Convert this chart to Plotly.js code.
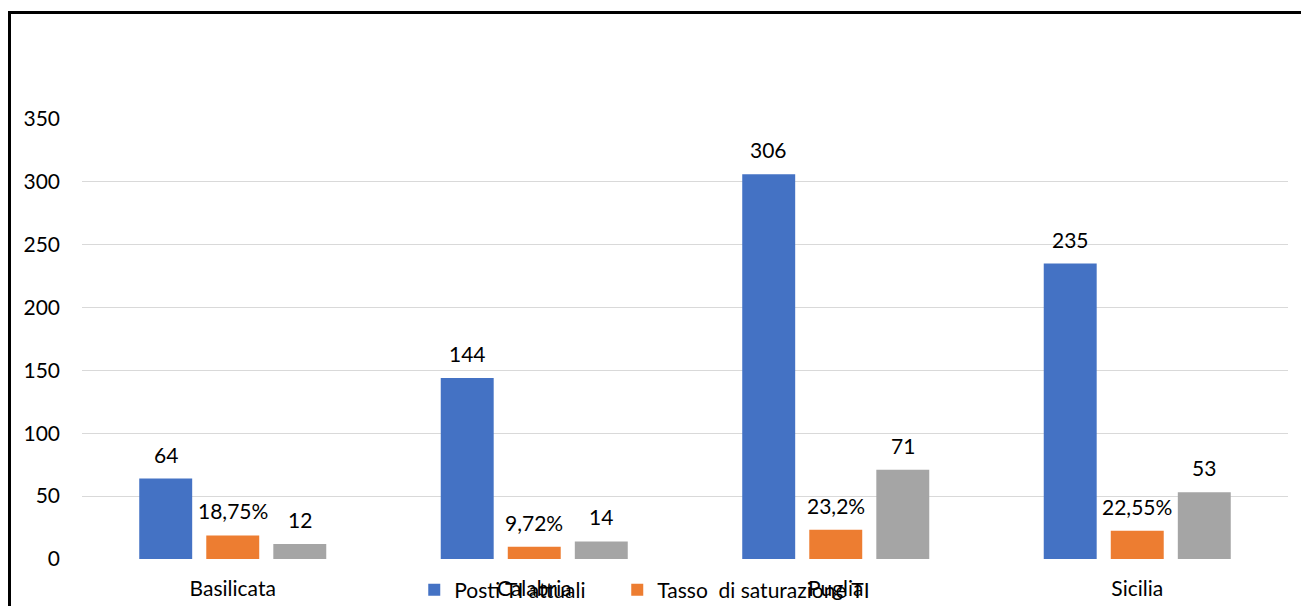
<!DOCTYPE html>
<html>
<head>
<meta charset="utf-8">
<script src="https://cdn.plot.ly/plotly-3.0.1.min.js"></script>
<style>
  html, body { margin: 0; padding: 0; background: #fff; }
  #wrap { position: relative; width: 1301px; height: 606px; overflow: hidden; }
  #chart { position: absolute; left: 0; top: 0; width: 1301px; height: 606px; }
  #frame { position: absolute; left: 8px; top: 11px; width: 1400px; height: 700px;
           border-left: 3px solid #000; border-top: 3px solid #000; pointer-events: none; }
</style>
</head>
<body>
<div id="wrap">
  <div id="chart"></div>
  <div id="frame"></div>
</div>
<script>
// ---- data ----
const categories = ["Basilicata", "Calabria", "Puglia", "Sicilia"];
const seriesNames = ["Posti TI attuali", "Tasso\u00a0 di saturazione TI", "Ricoverati TI"];
const postiTI = [64, 144, 306, 235];
const tassoSaturazione = [18.75, 9.72, 23.2, 22.55];
const ricoveratiTI = [12, 14, 71, 53];
const yTickValues = [0, 50, 100, 150, 200, 250, 300, 350];

// ---- style ----
const colors = ["#4472C4", "#ED7D31", "#A5A5A5"];
const FONT = "Lato, 'Open Sans', sans-serif";
const FS = 21;
const bargap = 0.333;
const bargroupgap = 0.21;
const legendWidths = [158, 260, 100];

const series = [postiTI, tassoSaturazione, ricoveratiTI];
const labelFns = [
  v => String(v),
  v => String(v).replace('.', ',') + '%',
  v => String(v)
];

const traces = series.map((vals, k) => ({
  type: 'bar',
  name: seriesNames[k],
  x: categories,
  y: vals,
  marker: { color: colors[k], line: { width: 0 } },
  showlegend: k < 2,
  legendwidth: legendWidths[k],
  hoverinfo: 'x+y+name'
}));

// data labels placed through the axes, offset to each bar's slot in the group
const slot = (1 - bargap) / series.length;
const annotations = [];
series.forEach((vals, k) => {
  vals.forEach((v, i) => {
    annotations.push({
      xref: 'x', yref: 'y',
      x: i + (k - (series.length - 1) / 2) * slot,
      y: v,
      text: labelFns[k](v),
      showarrow: false,
      xanchor: 'center', yanchor: 'bottom',
      yshift: 10,
      font: { family: FONT, size: FS, color: '#000' }
    });
  });
});

const layout = {
  width: 1301, height: 606,
  margin: { l: 82, r: 13, t: 119, b: 47, autoexpand: false },
  paper_bgcolor: '#fff', plot_bgcolor: '#fff',
  barmode: 'group',
  bargap: bargap,
  bargroupgap: bargroupgap,
  font: { family: FONT, size: FS, color: '#000' },
  xaxis: {
    type: 'category',
    showline: false, showgrid: false, zeroline: false,
    ticks: '',
    ticklabelstandoff: 15,
    tickfont: { family: FONT, size: FS, color: '#000' }
  },
  yaxis: {
    range: [0, 350],
    tickvals: yTickValues,
    showline: false, zeroline: false,
    showgrid: true, gridcolor: '#d9d9d9', gridwidth: 1,
    ticks: '',
    ticklabelstandoff: 21,
    tickfont: { family: FONT, size: FS, color: '#000' }
  },
  showlegend: true,
  legend: {
    orientation: 'h',
    x: 0.2755, xanchor: 'left',
    y: -0.0705, yanchor: 'middle',
    bgcolor: 'rgba(0,0,0,0)',
    font: { family: FONT, size: FS, color: '#000' },
    traceorder: 'normal'
  },
  annotations: annotations
};

Plotly.newPlot('chart', traces, layout, { displayModeBar: false, staticPlot: true });
</script>
</body>
</html>
